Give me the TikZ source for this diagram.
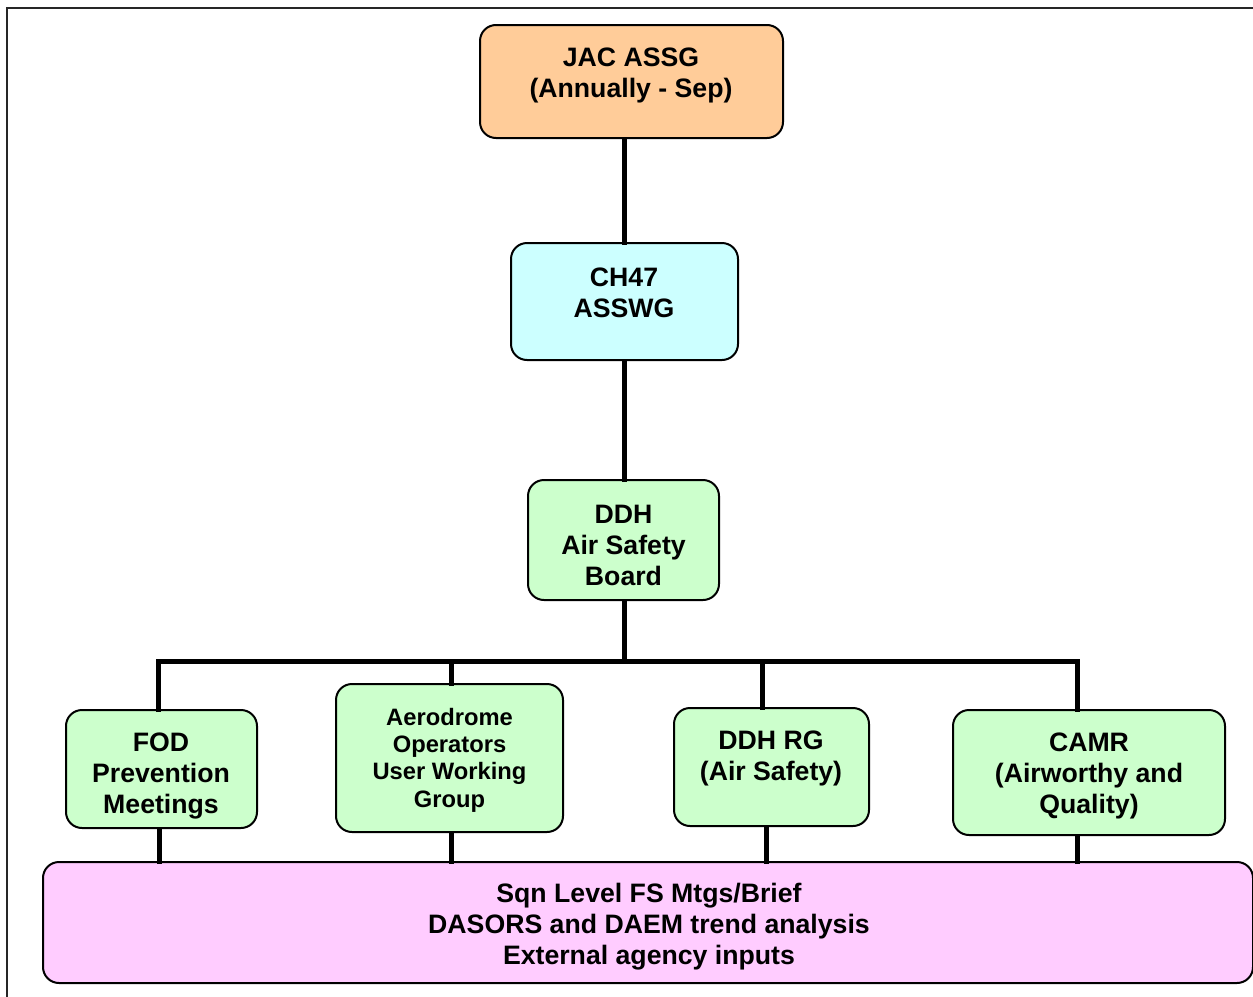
\documentclass[tikz,border=0pt]{standalone}
\usepackage{fontspec}
\setmainfont{Liberation Sans}
\usetikzlibrary{calc}
\definecolor{orangefill}{HTML}{FFCC99}
\definecolor{cyanfill}{HTML}{CCFFFF}
\definecolor{greenfill}{HTML}{CCFFCC}
\definecolor{pinkfill}{HTML}{FFCCFF}
\begin{document}
\begin{tikzpicture}[x=0.75pt,y=-0.75pt,
  box/.style={draw=black,line width=1.5pt,rounded corners=12pt,inner sep=0pt},
  txt/.style={align=center,font=\bfseries\fontsize{20}{23.25}\selectfont,inner sep=0pt},
  smalltxt/.style={align=center,font=\bfseries\fontsize{17.8}{20.5}\selectfont,inner sep=0pt},
  conn/.style={line width=3.75pt,line cap=rect},
  frame/.style={line width=2.2pt,draw=black!85}]
\useasboundingbox (0,0) rectangle (1253,996);
\begin{scope}
\clip (0,0) rectangle (1253,996);
\draw[frame] (7,1100) -- (7,8) -- (1300,8);
\end{scope}
\coordinate (bl) at (158,661);
\coordinate (br) at (1077,661);
\coordinate (xmid) at (624,0);
\coordinate (xrg) at (762,0);
\coordinate (xfodb) at (159,0);
\coordinate (xaero) at (451,0);
\coordinate (xrgb) at (766,0);
% boxes
\node[box,fill=orangefill,minimum width=303*0.75pt,minimum height=113*0.75pt] (jac) at (631.5,81.5) {};
\node[box,fill=cyanfill,minimum width=227*0.75pt,minimum height=117*0.75pt] (ch47) at (624.5,301.5) {};
\node[box,fill=greenfill,minimum width=191*0.75pt,minimum height=120*0.75pt] (ddh) at (623.5,540) {};
\node[box,fill=greenfill,minimum width=191*0.75pt,minimum height=118*0.75pt] (fod) at (161.5,769) {};
\node[box,fill=greenfill,minimum width=227*0.75pt,minimum height=148*0.75pt] (aero) at (449.5,758) {};
\node[box,fill=greenfill,minimum width=195*0.75pt,minimum height=118*0.75pt] (rg) at (771.5,767) {};
\node[box,fill=greenfill,minimum width=272*0.75pt,minimum height=125*0.75pt] (camr) at (1089,772.5) {};
\node[box,fill=pinkfill,minimum width=1210*0.75pt,minimum height=121*0.75pt] (pink) at (648,922.5) {};
% connectors
\draw[conn] (jac.south -| xmid) -- (ch47.north -| xmid);
\draw[conn] (ch47.south -| xmid) -- (ddh.north -| xmid);
\draw[conn] (ddh.south -| xmid) -- (bl -| xmid);
\draw[conn] (bl) -- (br);
\draw[conn] (bl) -- (bl |- fod.north);
\draw[conn] (bl -| xaero) -- (aero.north -| xaero);
\draw[conn] (bl -| xrg) -- (rg.north -| xrg);
\draw[conn] (br) -- (br |- camr.north);
\draw[conn] (fod.south -| xfodb) -- (pink.north -| xfodb);
\draw[conn] (aero.south -| xaero) -- (pink.north -| xaero);
\draw[conn] (rg.south -| xrgb) -- (pink.north -| xrgb);
\draw[conn] (camr.south -| br) -- (pink.north -| br);
% texts
\node[txt] (jact) at (631,75) {JAC ASSG\\(Annually - Sep)};
\node[txt] (ch47t) at (624,293) {CH47\\ASSWG};
\node[txt] (ddht) at (623.5,545.5) {DDH\\Air Safety\\Board};
\node[txt] (fodt) at (161,776) {FOD\\Prevention\\Meetings};
\node[smalltxt] (aerot) at (449.5,760) {Aerodrome\\Operators\\User Working\\Group};
\node[txt] (rgt) at (771,758.5) {DDH RG\\(Air Safety)};
\node[txt] (camrt) at (1089,776) {CAMR\\(Airworthy and\\Quality)};
\node[txt] (pinkt) at (649,927) {Sqn Level FS Mtgs/Brief\\DASORS and DAEM trend analysis\\External agency inputs};
\end{tikzpicture}
\end{document}
